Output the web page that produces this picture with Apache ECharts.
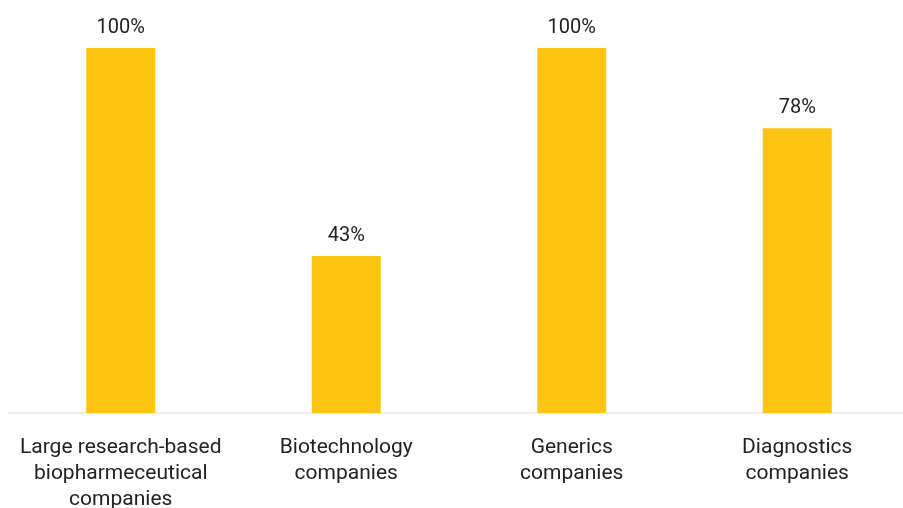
<!DOCTYPE html>
<html><head><meta charset="utf-8">
<script src="https://cdn.jsdelivr.net/npm/echarts@6/dist/echarts.min.js"></script>
<style>html,body{margin:0;padding:0;background:#fff}#c{width:903px;height:508px}</style>
</head><body><div id="c"></div>
<script>
const categories = ["Large research-based\nbiopharmeceutical\ncompanies", "Biotechnology\ncompanies", "Generics\ncompanies", "Diagnostics\ncompanies"];
const values = [100, 43, 100, 78];

const chart = echarts.init(document.getElementById('c'), null, {renderer: 'canvas'});
chart.setOption({
  animation: false,
  grid: {left: 8, right: -7, top: 48, bottom: 95, outerBoundsMode: 'none', containLabel: false},
  xAxis: {
    type: 'category', data: categories,
    axisLine: {lineStyle: {color: '#e6e6e6', width: 1.5}},
    axisTick: {show: false},
    axisLabel: {interval: 0, color: '#222', fontFamily: 'Roboto', fontSize: 21, lineHeight: 26, margin: 22}
  },
  yAxis: {type: 'value', min: 0, max: 100, show: false, splitLine: {show: false}},
  series: [{
    type: 'bar', data: values, barWidth: 69,
    itemStyle: {color: '#FDC511'},
    label: {show: true, position: 'top', distance: 10, formatter: '{c}%', color: '#222', fontFamily: 'Roboto', fontSize: 20}
  }]
});
</script></body></html>
